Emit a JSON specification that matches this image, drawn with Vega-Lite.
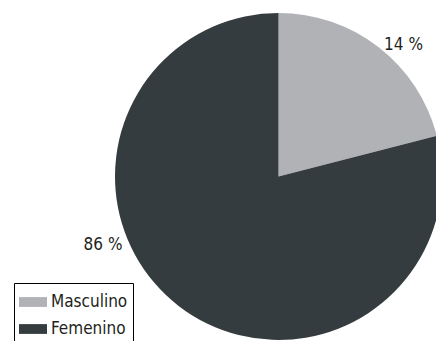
{
  "$schema": "https://vega.github.io/schema/vega-lite/v6.json",
  "width": 436,
  "height": 341,
  "autosize": "none",
  "padding": 0,
  "background": "white",
  "config": {"view": {"stroke": null}, "font": "DejaVu Sans Condensed, Roboto, sans-serif"},
  "data": {
    "values": [
      {"sexo": "Masculino", "valor": 21, "etiqueta": "14 %"},
      {"sexo": "Femenino", "valor": 79, "etiqueta": "86 %"}
    ]
  },
  "layer": [
    {
      "mark": {"type": "arc", "x": 278.5, "y": 176.5, "outerRadius": 163.5},
      "encoding": {
        "theta": {"field": "valor", "type": "quantitative", "stack": true},
        "order": {"field": "sexo", "sort": "descending"},
        "color": {
          "field": "sexo",
          "type": "nominal",
          "scale": {"domain": ["Masculino", "Femenino"], "range": ["#b1b2b6", "#353c40"]},
          "legend": {
            "title": null,
            "orient": "none",
            "legendX": 14,
            "legendY": 283,
            "strokeColor": "black",
            "padding": 5,
            "rowPadding": 5,
            "symbolType": "M-1,-0.35H1V0.35H-1Z",
            "symbolSize": 784,
            "symbolStrokeWidth": 0,
            "labelFont": "DejaVu Sans Condensed, Roboto, sans-serif",
            "labelFontSize": 17,
            "labelColor": "#231f20",
            "labelOffset": 4
          }
        }
      }
    },
    {
      "transform": [{"filter": "datum.sexo === 'Masculino'"}],
      "mark": {"type": "text", "x": 278.5, "y": 176.5, "dx": 125, "dy": -132, "font": "DejaVu Sans Condensed, Roboto, sans-serif", "fontSize": 17, "color": "#231f20", "align": "center", "baseline": "middle"},
      "encoding": {"text": {"field": "etiqueta"}}
    },
    {
      "transform": [{"filter": "datum.sexo === 'Femenino'"}],
      "mark": {"type": "text", "x": 278.5, "y": 176.5, "dx": -175.5, "dy": 68.5, "font": "DejaVu Sans Condensed, Roboto, sans-serif", "fontSize": 17, "color": "#231f20", "align": "center", "baseline": "middle"},
      "encoding": {"text": {"field": "etiqueta"}}
    }
  ]
}
